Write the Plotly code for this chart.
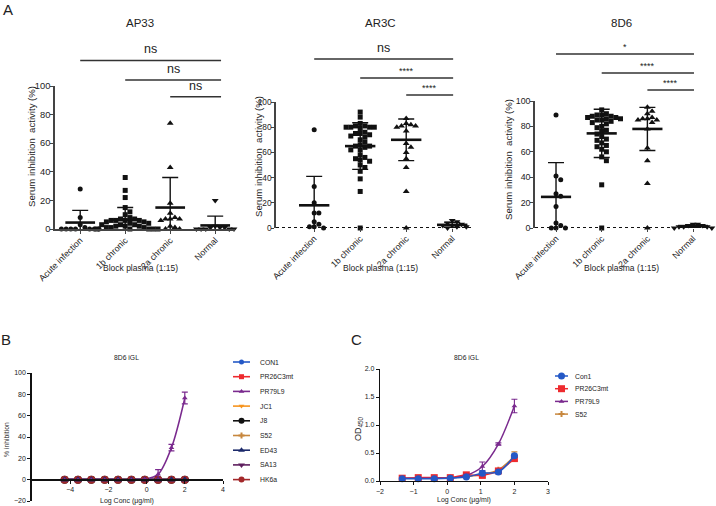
import plotly.graph_objects as go

W, H = 716, 506
FONT = "Arial, Liberation Sans, Helvetica, sans-serif"

# ---------------- Panel A data ----------------
categories = ["Acute infection", "1b chronic", "2a chronic", "Normal"]
panel_titles = ["AP33", "AR3C", "8D6"]

ap33_acute = [28, 8, 3, 1, 0, 0, 0, 0, 0, 0, 0]
ap33_1b = [36, 27, 22, 15, 12, 10, 8, 7, 7, 6, 6, 6, 6, 5, 5, 4, 4, 3, 3, 3, 2, 2, 2, 1, 1, 1, 0, 0, 0, 0, 0]
ap33_2a = [74, 43, 18, 11, 8, 7, 7, 7, 6, 2, 1, 0, 0]
ap33_normal = [20, 2, 1, 1, 1, 0, 0, 0, 0, 0]
ap33_mean = [4.5, 6.5, 15, 2.5]
ap33_sd = [8.5, 8.5, 21, 6.5]
ap33_sig = ["ns", "ns", "ns"]

ar3c_acute = [78, 33, 20, 12, 12, 5, 3, 1, 1, 0]
ar3c_1b = [92, 88, 83, 81, 81, 80, 80, 80, 80, 79, 76, 75, 75, 74, 73, 72, 70, 68, 66, 65,
           65, 64, 62, 62, 58, 56, 55, 54, 53, 50, 48, 45, 39, 29, 0]
ar3c_2a = [87, 83, 82, 81, 81, 80, 77, 67, 64, 60, 55, 48, 29, 0]
ar3c_normal = [6, 5, 4, 3, 2, 2, 1, 1, 0]
ar3c_mean = [18, 65, 70, 2.5]
ar3c_sd = [23, 18.5, 16.5, 2]
ar3c_sig = ["ns", "****", "****"]

d86_acute = [89, 41, 38, 27, 25, 17, 4, 2, 0, 0, 0]
d86_1b = [93, 90, 89, 89, 88, 88, 87, 87, 86, 86, 85, 85, 84, 83, 82, 80, 79, 77, 76, 74,
          72, 70, 69, 67, 65, 64, 62, 60, 56, 53, 34, 0]
d86_2a = [95, 92, 90, 87, 86, 86, 85, 85, 83, 78, 63, 53, 35, 0]
d86_normal = [3, 3, 2, 2, 1, 1, 1, 0, 0]
d86_mean = [24.5, 74.5, 78, 1.5]
d86_sd = [27, 19, 17, 1]
d86_sig = ["*", "****", "****"]

sig_pairs = [(0, 3), (1, 3), (2, 3)]
a_ticks = [0, 20, 40, 60, 80, 100]

# ---------------- Panel B data ----------------
b_logconc = [-4.291, -3.592, -2.893, -2.194, -1.495, -0.796, -0.097, 0.602, 1.301, 2.0]
b_names = ["CON1", "PR26C3mt", "PR79L9", "JC1", "J8", "S52", "ED43", "SA13", "HK6a"]
b_values = {
    "CON1":     [0, 0, 0, 0, 0, 0, 0, 0, 0, 0],
    "PR26C3mt": [0, 0, 0, 0, 0, 0, 0, 0, 0, 0],
    "PR79L9":   [0, 0, 0, 0, 0, 0, 0.5, 5, 30, 76.5],
    "JC1":      [0, 0, 0, 0, 0, 0, 0, 0, 0, 0],
    "J8":       [0, 0, 0, 0, 0, 0, 0, 0, 0, 0],
    "S52":      [0, 0, 0, 0, 0, 0, 0, 0, 0, 0],
    "ED43":     [0, 0, 0, 0, 0, 0, 0, 0, 0, 0],
    "SA13":     [0, 0, 0, 0, 0, 0, 0, 0, 0, 0],
    "HK6a":     [0, 0, 0, 0, 0, 0, 0, 0, 0, 0],
}
b_err_pr79 = [0, 0, 0, 0, 0, 0, 0, 4.5, 3, 5.5]

# ---------------- Panel C data ----------------
c_logconc = [-1.340, -0.862, -0.385, 0.092, 0.569, 1.046, 1.523, 2.0]
c_names = ["Con1", "PR26C3mt", "PR79L9", "S52"]
c_values = {
    "Con1":     [0.04, 0.04, 0.04, 0.05, 0.07, 0.14, 0.16, 0.45],
    "PR26C3mt": [0.05, 0.06, 0.06, 0.06, 0.11, 0.10, 0.18, 0.40],
    "PR79L9":   [0.05, 0.05, 0.05, 0.05, 0.10, 0.26, 0.66, 1.34],
    "S52":      [0.05, 0.05, 0.05, 0.06, 0.08, 0.12, 0.20, 0.44],
}
c_err = {
    "Con1":     [0, 0, 0, 0, 0, 0.04, 0.02, 0.03],
    "PR26C3mt": [0, 0, 0, 0, 0.01, 0.03, 0.02, 0.03],
    "PR79L9":   [0, 0, 0, 0, 0.02, 0.08, 0.02, 0.12],
    "S52":      [0, 0, 0, 0, 0, 0.02, 0.02, 0.08],
}

# ---------------- styles ----------------
colors = {"CON1": "#2458c6", "Con1": "#2458c6", "PR26C3mt": "#ee2a2e", "PR79L9": "#7a2a8e",
          "JC1": "#f7941d", "J8": "#111111", "S52": "#c7873e", "ED43": "#1c2a6b",
          "SA13": "#5e1f5e", "HK6a": "#a3282a"}
symbols = {"CON1": "circle", "Con1": "circle", "PR26C3mt": "square", "PR79L9": "triangle-up",
           "JC1": "triangle-down", "J8": "circle", "S52": "cross", "ED43": "triangle-up",
           "SA13": "triangle-down", "HK6a": "circle"}
bsizes = {"CON1": 5, "PR26C3mt": 5, "PR79L9": 5, "JC1": 5, "J8": 8, "S52": 5,
          "ED43": 7, "SA13": 7, "HK6a": 8}
csizes = {"Con1": 7, "PR26C3mt": 7, "PR79L9": 5, "S52": 5}


def fx(px):
    return px / W


def fy(py):
    return 1 - py / H


def label(text, xpx, ypx, size, angle=0, xanchor="center", yanchor="middle"):
    return dict(text=text, xref="paper", yref="paper", x=fx(xpx), y=fy(ypx), showarrow=False,
                xanchor=xanchor, yanchor=yanchor, textangle=angle,
                font=dict(size=size, color="#222", family=FONT))


def swarm_x(vals, center, ppx, ppy, d=5.0):
    placed = []
    xs = [0.0] * len(vals)
    order = sorted(range(len(vals)), key=lambda i: -vals[i])
    for i in order:
        yp = vals[i] * ppy
        k = 0
        while True:
            off = ((k + 1) // 2) * d * (1 if k % 2 == 1 else -1)
            if all((off - px) ** 2 + (yp - py) ** 2 >= d * d * 0.95 for px, py in placed):
                break
            k += 1
        placed.append((off, yp))
        xs[i] = center + off / ppx
    return xs


fig = go.Figure()

panels = [
    dict(groups=[ap33_acute, ap33_1b, ap33_2a, ap33_normal], mean=ap33_mean, sd=ap33_sd, sig=ap33_sig,
         ax="", xdom=(55, 235), ydom=(229, 86), xr=[-0.56, 3.44], dotted=False,
         sigy=[60.5, 80, 96.7], sigend=3.13, title_x=140, ytitle=(31, 147), xlab_x=140, ytick=9.3),
    dict(groups=[ar3c_acute, ar3c_1b, ar3c_2a, ar3c_normal], mean=ar3c_mean, sd=ar3c_sd, sig=ar3c_sig,
         ax="2", xdom=(276, 472), ydom=(228, 102), xr=[-0.83, 3.43], dotted=True,
         sigy=[59, 78, 95], sigend=3.02, title_x=380, ytitle=(258, 157), xlab_x=381, ytick=8.3),
    dict(groups=[d86_acute, d86_1b, d86_2a, d86_normal], mean=d86_mean, sd=d86_sd, sig=d86_sig,
         ax="3", xdom=(535, 715), ydom=(228, 101), xr=[-0.46, 3.48], dotted=True,
         sigy=[54, 73, 90], sigend=3.02, title_x=621, ytitle=(509, 160), xlab_x=621, ytick=8.8),
]

grp_symbols = ["circle", "square", "triangle-up", "triangle-down"]
grp_sizes = [5, 5, 6, 6]
shapes = []
annotations = []
layout_axes = {}

for pi, p in enumerate(panels):
    ax = p["ax"]
    xname = "x" + ax
    yname = "y" + ax
    ppx = (p["xdom"][1] - p["xdom"][0]) / (p["xr"][1] - p["xr"][0])
    ppy = (p["ydom"][0] - p["ydom"][1]) / 100.0
    if p["dotted"]:
        shapes.append(dict(type="line", xref=xname + " domain", x0=0, x1=1, yref=yname, y0=0, y1=0,
                           line=dict(color="#111", width=2.2, dash="dot"), layer="below"))
    for gi, vals in enumerate(p["groups"]):
        xs = swarm_x(vals, gi, ppx, ppy, d=4.7)
        fig.add_trace(go.Scatter(x=xs, y=vals, mode="markers", xaxis=xname, yaxis=yname,
                                 marker=dict(symbol=grp_symbols[gi], size=grp_sizes[gi], color="#111"),
                                 cliponaxis=False, showlegend=False, hoverinfo="y"))
    mx, my = [], []
    for gi, m in enumerate(p["mean"]):
        mx += [gi - 0.33, gi + 0.33, None]
        my += [m, m, None]
    fig.add_trace(go.Scatter(x=mx, y=my, mode="lines", xaxis=xname, yaxis=yname,
                             line=dict(color="#111", width=2.6), showlegend=False, hoverinfo="skip"))
    fig.add_trace(go.Scatter(x=list(range(4)), y=p["mean"], mode="markers", xaxis=xname, yaxis=yname,
                             marker=dict(size=1, opacity=0),
                             error_y=dict(type="data", array=p["sd"], color="#111", thickness=1.4, width=8),
                             showlegend=False, hoverinfo="skip"))
    for (a, b), lab, ypx in zip(sig_pairs, p["sig"], p["sigy"]):
        x0 = a
        shapes.append(dict(type="line", xref=xname, x0=x0, x1=p["sigend"], yref="paper",
                           y0=fy(ypx), y1=fy(ypx), line=dict(color="#333", width=1.4)))
        annotations.append(dict(text=lab, xref=xname, x=(x0 + p["sigend"]) / 2, yref="paper", y=fy(ypx),
                                xanchor="center", yanchor="bottom", showarrow=False,
                                yshift=(2 if lab == "ns" else 0),
                                font=dict(size=(12.5 if lab == "ns" else 9), color="#222", family=FONT)))
    annotations.append(label(panel_titles[pi], p["title_x"], 23, 11.5))
    annotations.append(label("Serum inhibition\u00a0 activity (%)", p["ytitle"][0], p["ytitle"][1], 9.6, -90))
    annotations.append(label("Block plasma (1:15)", p["xlab_x"], 268, 8.5))
    xkey = "xaxis" + ax
    ykey = "yaxis" + ax
    layout_axes[xkey] = dict(domain=[fx(p["xdom"][0]), fx(p["xdom"][1])], range=p["xr"], anchor=yname,
                             tickvals=list(range(4)), ticktext=categories, tickangle=-45,
                             showline=not p["dotted"], linecolor="#444", linewidth=1.5,
                             ticks="outside", ticklen=3, tickcolor="#444", tickwidth=1.2,
                             ticklabelstandoff=-2,
                             showgrid=False, zeroline=False, automargin=False,
                             tickfont=dict(size=8.8, color="#222", family=FONT))
    layout_axes[ykey] = dict(domain=[fy(p["ydom"][0]), fy(p["ydom"][1])], range=[0, 100], anchor=xname,
                             tickvals=a_ticks, showline=True, linecolor="#444", linewidth=1.5,
                             ticks="outside", ticklen=3, tickcolor="#444", tickwidth=1.2,
                             ticklabelstandoff=-2,
                             showgrid=False, zeroline=False, automargin=False,
                             tickfont=dict(size=p["ytick"], color="#222", family=FONT))

# ---------------- Panel B ----------------
line_order = ["PR26C3mt", "JC1", "J8", "S52", "ED43", "SA13", "HK6a", "PR79L9", "CON1"]
for nm in line_order:
    fig.add_trace(go.Scatter(x=b_logconc, y=b_values[nm], mode="lines", xaxis="x4", yaxis="y4",
                             line=dict(color=colors[nm], width=1.6, shape="spline", smoothing=0.9),
                             showlegend=False, hoverinfo="skip"))
marker_order = ["CON1", "PR26C3mt", "JC1", "S52", "SA13", "J8", "HK6a", "ED43", "PR79L9"]
for nm in marker_order:
    kw = {}
    if nm == "PR79L9":
        kw["error_y"] = dict(type="data", array=b_err_pr79, color=colors[nm], thickness=1.2, width=3)
    fig.add_trace(go.Scatter(x=b_logconc, y=b_values[nm], mode="markers", xaxis="x4", yaxis="y4",
                             marker=dict(symbol=symbols[nm], size=bsizes[nm], color=colors[nm]),
                             cliponaxis=False, name=nm, showlegend=False, **kw))

layout_axes["xaxis4"] = dict(domain=[fx(32), fx(223)], range=[-6, 4], anchor="free", position=fy(480),
                             tickvals=[-4, -2, 0, 2, 4], showline=True, linecolor="#111", linewidth=1.5,
                             ticks="outside", ticklen=3, tickcolor="#111", showgrid=False, zeroline=False,
                             automargin=False, tickfont=dict(size=7, color="#222", family=FONT))
layout_axes["yaxis4"] = dict(domain=[fy(501), fy(373)], range=[-20, 100], anchor="x4",
                             tickvals=[-20, 0, 20, 40, 60, 80, 100], showline=True, linecolor="#111",
                             linewidth=1.5, ticks="outside", ticklen=3, tickcolor="#111", showgrid=False,
                             zeroline=False, automargin=False, tickfont=dict(size=7, color="#222", family=FONT))
annotations.append(label("8D6 iGL", 126, 357, 6.8))
annotations.append(label("Log Conc (\u03bcg/ml)", 127, 501, 7))
annotations.append(label("% inhibition", 6, 440, 6.8, -90))

# ---------------- Panel C ----------------
for nm in ["S52", "PR26C3mt", "PR79L9", "Con1"]:
    fig.add_trace(go.Scatter(x=c_logconc, y=c_values[nm], mode="lines+markers", xaxis="x5", yaxis="y5",
                             line=dict(color=colors[nm], width=1.5, shape="spline", smoothing=0.9),
                             marker=dict(symbol=symbols[nm], size=csizes[nm], color=colors[nm]),
                             error_y=dict(type="data", array=c_err[nm], color=colors[nm], thickness=1.1, width=3),
                             cliponaxis=False, name=nm, showlegend=False))
layout_axes["xaxis5"] = dict(domain=[fx(380), fx(548)], range=[-2, 3], anchor="y5",
                             tickvals=[-2, -1, 0, 1, 2, 3], showline=True, linecolor="#111", linewidth=1.4,
                             ticks="outside", ticklen=3, tickcolor="#111", showgrid=False, zeroline=False,
                             automargin=False, tickfont=dict(size=7, color="#222", family=FONT))
layout_axes["yaxis5"] = dict(domain=[fy(481), fy(369)], range=[0, 2], anchor="x5",
                             tickvals=[0, 0.5, 1.0, 1.5, 2.0], tickformat=".1f", showline=True,
                             linecolor="#111", linewidth=1.4, ticks="outside", ticklen=3, tickcolor="#111",
                             showgrid=False, zeroline=False, automargin=False,
                             tickfont=dict(size=7, color="#222", family=FONT))
annotations.append(label("8D6 iGL", 466, 357, 6.8))
annotations.append(label("Log Conc (\u03bcg/ml)", 464, 500, 7))
annotations.append(label("OD<sub>450</sub>", 358, 429, 9, -90))

# ---------------- Manual legends (overlay axes in pixel units) ----------------
layout_axes["xaxis6"] = dict(domain=[0, 1], range=[0, W], visible=False, anchor="y6", fixedrange=True)
layout_axes["yaxis6"] = dict(domain=[0, 1], range=[H, 0], visible=False, anchor="x6", fixedrange=True)

for i, nm in enumerate(b_names):
    ypx = 362 + i * 14.7
    fig.add_trace(go.Scatter(x=[233, 241.5, 250], y=[ypx, ypx, ypx], mode="lines", xaxis="x6", yaxis="y6",
                             line=dict(color=colors[nm], width=1.6), showlegend=False, hoverinfo="skip"))
    fig.add_trace(go.Scatter(x=[241.5], y=[ypx], mode="markers", xaxis="x6", yaxis="y6",
                             marker=dict(symbol=symbols[nm], size=min(bsizes[nm], 6), color=colors[nm]),
                             showlegend=False, hoverinfo="skip"))
    annotations.append(label(nm, 258, ypx, 6.8, xanchor="left"))

for i, nm in enumerate(c_names):
    ypx = 376 + i * 12.7
    fig.add_trace(go.Scatter(x=[555, 561.5, 568], y=[ypx, ypx, ypx], mode="lines", xaxis="x6", yaxis="y6",
                             line=dict(color=colors[nm], width=1.5), showlegend=False, hoverinfo="skip"))
    fig.add_trace(go.Scatter(x=[561.5], y=[ypx], mode="markers", xaxis="x6", yaxis="y6",
                             marker=dict(symbol=symbols[nm], size=csizes[nm], color=colors[nm]),
                             showlegend=False, hoverinfo="skip"))
    annotations.append(label(nm, 573, ypx, 6.8, xanchor="left"))

for lab, xp, yp in [("A", 8, 10), ("B", 6, 339), ("C", 356, 339)]:
    annotations.append(label(lab, xp, yp, 15))

fig.update_layout(width=W, height=H, margin=dict(l=0, r=0, t=0, b=0, autoexpand=False),
                  paper_bgcolor="white", plot_bgcolor="rgba(0,0,0,0)", showlegend=False,
                  shapes=shapes, annotations=annotations,
                  font=dict(family=FONT, color="#222"), **layout_axes)

fig.write_html("out.html", config={"displayModeBar": False},
               post_script="document.body.style.margin='0';document.body.style.padding='0';"
                           "document.body.style.overflow='hidden';")
